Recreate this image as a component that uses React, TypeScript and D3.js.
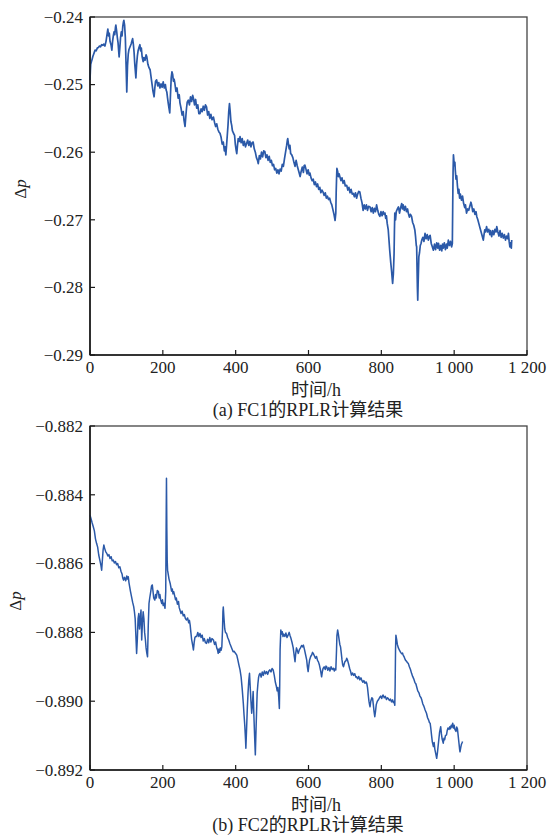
import React from "react";
import * as d3 from "d3";

const xTickValues = [0, 200, 400, 600, 800, 1000, 1200];
const xTickLabels = ["0", "200", "400", "600", "800", "1 000", "1 200"];
const xTitle = "时间/h";

const fc1YTicks = [-0.24, -0.25, -0.26, -0.27, -0.28, -0.29];
const fc1YLabels = ["−0.24", "−0.25", "−0.26", "−0.27", "−0.28", "−0.29"];
const fc1Caption = "(a) FC1的RPLR计算结果";

const fc2YTicks = [-0.882, -0.884, -0.886, -0.888, -0.89, -0.892];
const fc2YLabels = ["−0.882", "−0.884", "−0.886", "−0.888", "−0.890", "−0.892"];
const fc2Caption = "(b) FC2的RPLR计算结果";

// [time (h), Δp]
const fc1Series: [number, number][] = [
  [0,-0.2493],[1,-0.2480],[2,-0.2470],[4,-0.2466],[6,-0.2462],[8,-0.2458],[10,-0.2455],[12,-0.2452],[14,-0.2449],[17,-0.2450],
  [20,-0.2446],[23,-0.2445],[26,-0.2443],[29,-0.2444],[32,-0.2441],[35,-0.2442],[38,-0.2440],[41,-0.2443],[44,-0.2436],[47,-0.2425],
  [49,-0.2418],[51,-0.2428],[53,-0.2424],[55,-0.2436],[58,-0.2442],[60,-0.2449],[62,-0.2436],[64,-0.2428],[66,-0.2422],[68,-0.2426],
  [70,-0.2415],[71,-0.2412],[73,-0.2420],[75,-0.2430],[77,-0.2438],[79,-0.2452],[80,-0.2459],[82,-0.2445],[84,-0.2430],[86,-0.2422],
  [88,-0.2428],[90,-0.2414],[92,-0.2407],[93,-0.2405],[95,-0.2412],[97,-0.2430],[99,-0.2470],[101,-0.2511],[103,-0.2472],[105,-0.2455],
  [107,-0.2448],[110,-0.2444],[113,-0.2440],[115,-0.2436],[117,-0.2432],[119,-0.2440],[121,-0.2452],[123,-0.2470],[126,-0.2490],[128,-0.2470],
  [130,-0.2458],[132,-0.2450],[134,-0.2446],[137,-0.2441],[139,-0.2450],[141,-0.2446],[143,-0.2458],[146,-0.2466],[148,-0.2460],[151,-0.2464],
  [154,-0.2456],[156,-0.2459],[159,-0.2470],[162,-0.2475],[165,-0.2478],[168,-0.2490],[171,-0.2502],[173,-0.2510],[176,-0.2518],[178,-0.2505],
  [180,-0.2495],[183,-0.2493],[186,-0.2502],[189,-0.2497],[192,-0.2505],[195,-0.2499],[198,-0.2504],[201,-0.2496],[204,-0.2505],[207,-0.2500],
  [209,-0.2508],[211,-0.2511],[213,-0.2520],[215,-0.2528],[217,-0.2535],[219,-0.2542],[221,-0.2515],[223,-0.2490],[225,-0.2481],[227,-0.2485],
  [229,-0.2495],[231,-0.2492],[233,-0.2498],[236,-0.2510],[239,-0.2505],[242,-0.2520],[245,-0.2515],[247,-0.2527],[250,-0.2535],[253,-0.2545],
  [256,-0.2540],[258,-0.2552],[261,-0.2562],[263,-0.2548],[265,-0.2535],[267,-0.2526],[270,-0.2523],[273,-0.2530],[276,-0.2518],[279,-0.2525],
  [282,-0.2516],[284,-0.2520],[287,-0.2530],[290,-0.2522],[293,-0.2535],[296,-0.2530],[299,-0.2543],[302,-0.2543],[305,-0.2536],[308,-0.2540],
  [311,-0.2532],[314,-0.2538],[317,-0.2530],[320,-0.2533],[323,-0.2545],[326,-0.2540],[329,-0.2550],[332,-0.2544],[335,-0.2552],[339,-0.2548],
  [342,-0.2556],[345,-0.2562],[348,-0.2558],[351,-0.2566],[354,-0.2570],[357,-0.2572],[360,-0.2578],[363,-0.2588],[366,-0.2585],[369,-0.2598],
  [371,-0.2592],[373,-0.2604],[375,-0.2590],[377,-0.2575],[379,-0.2560],[381,-0.2540],[383,-0.2528],[385,-0.2540],[387,-0.2555],[389,-0.2560],
  [391,-0.2568],[394,-0.2572],[397,-0.2575],[399,-0.2588],[401,-0.2596],[403,-0.2602],[405,-0.2590],[407,-0.2580],[410,-0.2584],[412,-0.2577],
  [415,-0.2586],[418,-0.2580],[421,-0.2590],[424,-0.2584],[427,-0.2592],[430,-0.2587],[433,-0.2582],[436,-0.2590],[439,-0.2584],[442,-0.2592],
  [445,-0.2586],[448,-0.2585],[451,-0.2595],[454,-0.2600],[457,-0.2608],[460,-0.2612],[462,-0.2617],[465,-0.2605],[468,-0.2610],[471,-0.2600],
  [474,-0.2607],[477,-0.2598],[480,-0.2599],[483,-0.2608],[486,-0.2604],[489,-0.2612],[492,-0.2606],[495,-0.2615],[498,-0.2612],[501,-0.2620],
  [504,-0.2618],[507,-0.2626],[510,-0.2624],[513,-0.2631],[516,-0.2626],[519,-0.2632],[522,-0.2625],[525,-0.2628],[528,-0.2618],[531,-0.2621],
  [534,-0.2610],[537,-0.2600],[540,-0.2590],[542,-0.2582],[543,-0.2580],[545,-0.2588],[547,-0.2595],[549,-0.2590],[551,-0.2602],[554,-0.2604],
  [557,-0.2608],[560,-0.2615],[563,-0.2621],[566,-0.2612],[569,-0.2620],[572,-0.2626],[575,-0.2632],[577,-0.2636],[580,-0.2628],[583,-0.2622],
  [586,-0.2630],[588,-0.2620],[590,-0.2619],[593,-0.2625],[596,-0.2632],[599,-0.2626],[602,-0.2634],[604,-0.2631],[607,-0.2638],[610,-0.2642],
  [613,-0.2640],[616,-0.2648],[619,-0.2644],[622,-0.2651],[625,-0.2647],[628,-0.2655],[631,-0.2652],[634,-0.2660],[637,-0.2656],[640,-0.2659],
  [643,-0.2664],[646,-0.2660],[649,-0.2668],[652,-0.2665],[655,-0.2670],[658,-0.2668],[661,-0.2674],[664,-0.2678],[667,-0.2685],[670,-0.2692],
  [673,-0.2701],[675,-0.2690],[676,-0.2660],[677,-0.2640],[678,-0.2624],[680,-0.2628],[682,-0.2636],[684,-0.2632],[686,-0.2636],[689,-0.2642],
  [692,-0.2638],[695,-0.2646],[698,-0.2642],[701,-0.2650],[705,-0.2649],[708,-0.2656],[711,-0.2652],[714,-0.2660],[717,-0.2655],[720,-0.2662],
  [723,-0.2661],[726,-0.2666],[729,-0.2660],[732,-0.2668],[735,-0.2662],[738,-0.2658],[741,-0.2659],[744,-0.2668],[747,-0.2675],[750,-0.2686],
  [753,-0.2678],[756,-0.2684],[759,-0.2678],[762,-0.2686],[765,-0.2680],[769,-0.2681],[772,-0.2688],[775,-0.2682],[778,-0.2690],[781,-0.2683],
  [784,-0.2688],[787,-0.2678],[790,-0.2686],[793,-0.2692],[796,-0.2695],[799,-0.2688],[802,-0.2694],[805,-0.2688],[808,-0.2692],[810,-0.2690],
  [812,-0.2698],[814,-0.2694],[816,-0.2705],[819,-0.2715],[821,-0.2730],[823,-0.2745],[826,-0.2764],[828,-0.2775],[830,-0.2788],[831,-0.2794],
  [833,-0.2780],[835,-0.2750],[836,-0.2715],[837,-0.2690],[839,-0.2700],[841,-0.2688],[844,-0.2684],[847,-0.2681],[850,-0.2690],[853,-0.2682],
  [856,-0.2676],[858,-0.2684],[860,-0.2678],[863,-0.2686],[866,-0.2680],[869,-0.2688],[872,-0.2684],[874,-0.2690],[877,-0.2696],[880,-0.2692],
  [883,-0.2695],[886,-0.2704],[889,-0.2708],[892,-0.2715],[894,-0.2725],[896,-0.2738],[897,-0.2740],[898,-0.2770],[899,-0.2800],[900,-0.2819],
  [901,-0.2795],[903,-0.2755],[905,-0.2748],[907,-0.2738],[909,-0.2735],[911,-0.2730],[914,-0.2726],[917,-0.2732],[920,-0.2720],[923,-0.2728],
  [926,-0.2722],[929,-0.2730],[932,-0.2724],[934,-0.2723],[937,-0.2735],[940,-0.2740],[943,-0.2745],[946,-0.2736],[949,-0.2744],[952,-0.2734],
  [955,-0.2742],[957,-0.2735],[960,-0.2745],[963,-0.2738],[966,-0.2746],[968,-0.2736],[970,-0.2742],[973,-0.2734],[976,-0.2744],[979,-0.2736],
  [981,-0.2742],[984,-0.2730],[987,-0.2738],[990,-0.2732],[993,-0.2740],[995,-0.2735],[996,-0.2680],[997,-0.2630],[998,-0.2604],[999,-0.2610],
  [1000,-0.2620],[1002,-0.2615],[1003,-0.2626],[1005,-0.2640],[1007,-0.2635],[1009,-0.2650],[1011,-0.2661],[1013,-0.2655],[1015,-0.2668],[1017,-0.2662],
  [1020,-0.2671],[1023,-0.2665],[1026,-0.2676],[1029,-0.2682],[1031,-0.2678],[1034,-0.2690],[1037,-0.2684],[1040,-0.2686],[1043,-0.2680],[1046,-0.2674],
  [1048,-0.2678],[1051,-0.2688],[1054,-0.2684],[1057,-0.2692],[1060,-0.2688],[1062,-0.2695],[1065,-0.2700],[1068,-0.2706],[1071,-0.2712],[1074,-0.2718],
  [1077,-0.2724],[1080,-0.2730],[1082,-0.2722],[1084,-0.2715],[1086,-0.2718],[1089,-0.2710],[1092,-0.2718],[1095,-0.2714],[1098,-0.2722],[1100,-0.2716],
  [1103,-0.2725],[1106,-0.2716],[1109,-0.2722],[1112,-0.2714],[1115,-0.2718],[1117,-0.2710],[1120,-0.2718],[1123,-0.2724],[1126,-0.2716],[1129,-0.2726],
  [1132,-0.2720],[1135,-0.2727],[1138,-0.2722],[1141,-0.2730],[1144,-0.2724],[1147,-0.2728],[1149,-0.2720],[1151,-0.2732],[1153,-0.2740],[1155,-0.2734],
  [1157,-0.2742],[1158,-0.2730],
];

const fc2Series: [number, number][] = [
  [0,-0.88459],[3,-0.88470],[6,-0.88482],[9,-0.88493],[12,-0.88505],[15,-0.88528],[18,-0.88541],[21,-0.88552],[24,-0.88575],[27,-0.88590],
  [30,-0.88605],[32,-0.88619],[34,-0.88590],[36,-0.88560],[38,-0.88546],[40,-0.88555],[43,-0.88565],[46,-0.88570],[49,-0.88578],[52,-0.88574],
  [55,-0.88585],[58,-0.88580],[61,-0.88592],[64,-0.88590],[67,-0.88598],[70,-0.88594],[73,-0.88603],[76,-0.88600],[79,-0.88612],[82,-0.88609],
  [85,-0.88622],[88,-0.88630],[90,-0.88642],[92,-0.88648],[95,-0.88640],[98,-0.88650],[101,-0.88636],[103,-0.88645],[105,-0.88638],[107,-0.88655],
  [109,-0.88668],[111,-0.88680],[114,-0.88696],[117,-0.88712],[120,-0.88725],[122,-0.88740],[124,-0.88760],[126,-0.88810],[128,-0.88861],[130,-0.88820],
  [132,-0.88760],[134,-0.88745],[136,-0.88790],[138,-0.88760],[140,-0.88735],[142,-0.88822],[144,-0.88770],[146,-0.88740],[148,-0.88760],[150,-0.88800],
  [152,-0.88820],[154,-0.88845],[156,-0.88860],[158,-0.88871],[160,-0.88780],[162,-0.88716],[164,-0.88700],[167,-0.88680],[169,-0.88665],[171,-0.88662],
  [173,-0.88680],[175,-0.88700],[178,-0.88706],[180,-0.88690],[182,-0.88700],[185,-0.88678],[188,-0.88682],[190,-0.88700],[192,-0.88690],[194,-0.88705],
  [197,-0.88716],[199,-0.88705],[201,-0.88722],[203,-0.88715],[206,-0.88730],[208,-0.88680],[209,-0.88500],[210,-0.88352],[211,-0.88500],[212,-0.88590],
  [213,-0.88619],[215,-0.88632],[217,-0.88645],[220,-0.88657],[222,-0.88668],[224,-0.88680],[226,-0.88674],[228,-0.88688],[230,-0.88682],[233,-0.88696],
  [235,-0.88705],[237,-0.88700],[240,-0.88718],[243,-0.88710],[245,-0.88728],[247,-0.88735],[250,-0.88745],[253,-0.88738],[256,-0.88752],[259,-0.88748],
  [262,-0.88760],[265,-0.88764],[268,-0.88758],[271,-0.88772],[273,-0.88765],[275,-0.88778],[277,-0.88800],[279,-0.88820],[282,-0.88838],[284,-0.88851],
  [286,-0.88830],[288,-0.88815],[290,-0.88812],[293,-0.88812],[296,-0.88800],[299,-0.88812],[302,-0.88803],[305,-0.88815],[308,-0.88808],[311,-0.88825],
  [314,-0.88818],[317,-0.88830],[320,-0.88832],[323,-0.88820],[326,-0.88830],[329,-0.88815],[332,-0.88828],[335,-0.88818],[339,-0.88822],[342,-0.88835],
  [345,-0.88828],[348,-0.88845],[350,-0.88850],[352,-0.88861],[354,-0.88848],[356,-0.88858],[358,-0.88845],[360,-0.88852],[362,-0.88842],[364,-0.88790],
  [365,-0.88740],[366,-0.88726],[368,-0.88760],[370,-0.88790],[372,-0.88800],[375,-0.88803],[378,-0.88815],[381,-0.88822],[384,-0.88832],[387,-0.88840],
  [390,-0.88848],[393,-0.88856],[396,-0.88855],[399,-0.88860],[403,-0.88866],[406,-0.88880],[409,-0.88895],[412,-0.88909],[415,-0.88930],[418,-0.88965],
  [421,-0.89006],[423,-0.89040],[425,-0.89070],[427,-0.89110],[428,-0.89137],[430,-0.89080],[432,-0.89020],[434,-0.88975],[436,-0.88940],[438,-0.88919],
  [440,-0.88960],[442,-0.89000],[444,-0.89035],[446,-0.89010],[448,-0.88972],[450,-0.89040],[452,-0.89100],[454,-0.89156],[456,-0.89080],[458,-0.89010],
  [459,-0.88977],[461,-0.88950],[463,-0.88930],[465,-0.88922],[467,-0.88919],[470,-0.88930],[473,-0.88915],[476,-0.88925],[479,-0.88912],[482,-0.88920],
  [485,-0.88914],[488,-0.88922],[491,-0.88912],[494,-0.88909],[497,-0.88915],[500,-0.88905],[503,-0.88909],[506,-0.88925],[509,-0.88945],[512,-0.88958],
  [514,-0.88970],[516,-0.88960],[518,-0.88985],[520,-0.89021],[521,-0.88950],[522,-0.88850],[524,-0.88793],[526,-0.88805],[528,-0.88798],[530,-0.88812],
  [532,-0.88805],[535,-0.88812],[538,-0.88802],[541,-0.88815],[544,-0.88808],[547,-0.88800],[549,-0.88808],[552,-0.88818],[555,-0.88830],[558,-0.88845],
  [561,-0.88870],[563,-0.88885],[565,-0.88860],[567,-0.88845],[570,-0.88855],[572,-0.88861],[575,-0.88850],[578,-0.88845],[581,-0.88838],[584,-0.88842],
  [586,-0.88837],[589,-0.88850],[592,-0.88865],[595,-0.88880],[597,-0.88900],[599,-0.88914],[601,-0.88895],[603,-0.88880],[606,-0.88870],[609,-0.88865],
  [611,-0.88858],[613,-0.88861],[616,-0.88868],[619,-0.88875],[622,-0.88870],[625,-0.88882],[627,-0.88885],[630,-0.88895],[633,-0.88910],[636,-0.88929],
  [638,-0.88915],[640,-0.88905],[643,-0.88900],[646,-0.88908],[648,-0.88898],[650,-0.88900],[653,-0.88910],[656,-0.88902],[659,-0.88912],[662,-0.88900],
  [665,-0.88908],[668,-0.88904],[671,-0.88912],[673,-0.88905],[675,-0.88909],[677,-0.88850],[678,-0.88810],[680,-0.88793],[682,-0.88805],[684,-0.88820],
  [686,-0.88835],[688,-0.88842],[690,-0.88860],[692,-0.88880],[694,-0.88895],[696,-0.88900],[698,-0.88892],[700,-0.88885],[703,-0.88882],[705,-0.88875],
  [707,-0.88880],[710,-0.88892],[713,-0.88905],[716,-0.88915],[718,-0.88924],[721,-0.88918],[724,-0.88925],[727,-0.88920],[730,-0.88930],[732,-0.88929],
  [735,-0.88935],[738,-0.88928],[741,-0.88938],[744,-0.88932],[746,-0.88938],[749,-0.88945],[752,-0.88940],[755,-0.88948],[758,-0.88944],[760,-0.88948],
  [762,-0.88960],[764,-0.88980],[766,-0.89000],[768,-0.89012],[769,-0.89016],[771,-0.89000],[774,-0.88990],[776,-0.88992],[778,-0.89010],[780,-0.89030],
  [782,-0.89045],[784,-0.89030],[786,-0.89010],[789,-0.89000],[792,-0.88996],[795,-0.88990],[798,-0.88985],[801,-0.88992],[803,-0.88985],[805,-0.88982],
  [808,-0.88990],[811,-0.88986],[814,-0.88995],[817,-0.88990],[819,-0.88992],[822,-0.88998],[825,-0.88994],[828,-0.89002],[831,-0.88996],[833,-0.89004],
  [835,-0.89001],[837,-0.89012],[838,-0.88950],[839,-0.88850],[840,-0.88808],[842,-0.88820],[844,-0.88835],[847,-0.88846],[850,-0.88852],[853,-0.88858],
  [856,-0.88862],[858,-0.88860],[860,-0.88866],[863,-0.88872],[866,-0.88880],[869,-0.88884],[872,-0.88888],[874,-0.88890],[877,-0.88900],[880,-0.88908],
  [883,-0.88919],[886,-0.88928],[889,-0.88935],[892,-0.88945],[895,-0.88950],[897,-0.88958],[900,-0.88970],[903,-0.88975],[906,-0.88985],[909,-0.88990],
  [911,-0.88996],[914,-0.89008],[917,-0.89015],[920,-0.89025],[922,-0.89030],[924,-0.89035],[927,-0.89048],[930,-0.89055],[932,-0.89062],[934,-0.89064],
  [936,-0.89080],[938,-0.89100],[940,-0.89118],[943,-0.89132],[945,-0.89120],[947,-0.89140],[949,-0.89150],[952,-0.89166],[954,-0.89150],[956,-0.89130],
  [958,-0.89110],[960,-0.89090],[963,-0.89074],[965,-0.89095],[967,-0.89110],[970,-0.89122],[972,-0.89108],[974,-0.89112],[976,-0.89100],[979,-0.89098],
  [981,-0.89085],[983,-0.89078],[986,-0.89082],[988,-0.89074],[990,-0.89080],[992,-0.89070],[994,-0.89075],[996,-0.89064],[998,-0.89078],[1000,-0.89070],
  [1002,-0.89082],[1005,-0.89088],[1007,-0.89075],[1009,-0.89080],[1011,-0.89100],[1013,-0.89120],[1015,-0.89140],[1016,-0.89147],[1018,-0.89135],[1020,-0.89125],
  [1022,-0.89120],[1023,-0.89117],
];

const FONT = "Liberation Serif, Tinos, Times New Roman, DejaVu Serif, serif, Noto Sans CJK SC";
const LINE_COLOR = "#2b59a8";

type PanelProps = {
  series: [number, number][];
  yTicks: number[];
  yLabels: string[];
  caption: string;
  top: number;
  bottom: number;
  yTitleX: number;
  lineWidth: number;
};

const txt = (size: number): React.CSSProperties => ({ fontFamily: FONT, fontSize: size, fill: "#222" });

function Panel({ series, yTicks, yLabels, caption, top, bottom, yTitleX, lineWidth }: PanelProps) {
  const left = 90;
  const right = 527;
  const x = d3.scaleLinear().domain([0, 1200]).range([left, right]);
  const yMax = d3.max(yTicks) as number;
  const yMin = d3.min(yTicks) as number;
  const y = d3.scaleLinear().domain([yMin, yMax]).range([bottom, top]);
  const line = d3
    .line<[number, number]>()
    .x((d) => x(d[0]))
    .y((d) => y(d[1]));
  const tickLen = 5;
  return (
    <g>
      <rect x={left} y={top} width={right - left} height={bottom - top} fill="none" stroke="#444" strokeWidth={1.3} />
      <path d={line(series) || ""} fill="none" stroke={LINE_COLOR} strokeWidth={lineWidth} strokeLinejoin="round" />
      <line x1={left} x2={left} y1={top} y2={bottom} stroke="#1a1a1a" strokeWidth={1.6} />
      <line x1={left} x2={right} y1={bottom} y2={bottom} stroke="#1a1a1a" strokeWidth={1.6} />
      {yTicks.map((t, i) => (
        <g key={"y" + i}>
          <line x1={left} x2={left + tickLen} y1={y(t)} y2={y(t)} stroke="#1a1a1a" strokeWidth={1.2} />
          <text x={left - 7} y={y(t)} dy="0.34em" textAnchor="end" style={txt(17)}>
            {yLabels[i]}
          </text>
        </g>
      ))}
      {xTickValues.map((t, i) => (
        <g key={"x" + i}>
          <line x1={x(t)} x2={x(t)} y1={bottom} y2={bottom - tickLen} stroke="#1a1a1a" strokeWidth={1.2} />
          <text x={x(t)} y={bottom + 18} textAnchor="middle" style={txt(17)}>
            {xTickLabels[i]}
          </text>
        </g>
      ))}
      <text x={316} y={bottom + 41} textAnchor="middle" style={txt(18)}>
        {xTitle}
      </text>
      <text x={308} y={bottom + 61} textAnchor="middle" style={txt(18)}>
        {caption}
      </text>
      <text
        transform={`translate(${yTitleX},${(top + bottom) / 2 + 3}) rotate(-90)`}
        textAnchor="middle"
        style={txt(17)}
      >
        Δ<tspan style={{ fontStyle: "italic" }}>p</tspan>
      </text>
    </g>
  );
}

export default function App() {
  return (
    <svg
      width={547}
      height={836}
      style={{ position: "absolute", left: 0, top: 0, background: "#fff" }}
    >
      <rect x={0} y={0} width={547} height={836} fill="#fff" />
      <Panel series={fc1Series} yTicks={fc1YTicks} yLabels={fc1YLabels} caption={fc1Caption} top={17} bottom={355} yTitleX={26} lineWidth={1.7} />
      <Panel series={fc2Series} yTicks={fc2YTicks} yLabels={fc2YLabels} caption={fc2Caption} top={426} bottom={770} yTitleX={21} lineWidth={1.5} />
    </svg>
  );
}
